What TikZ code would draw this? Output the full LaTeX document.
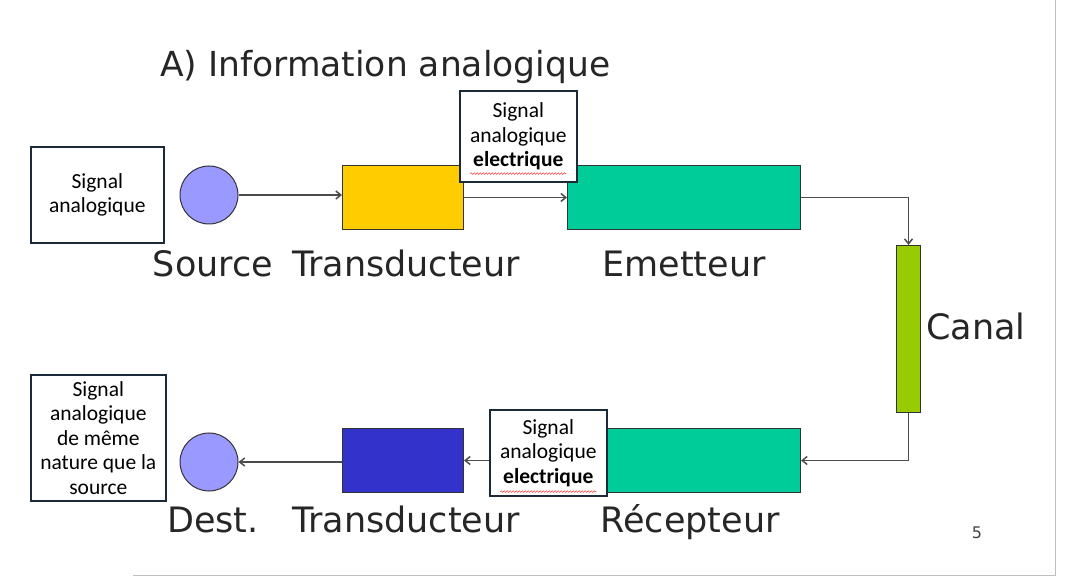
\documentclass[tikz,border=0pt]{standalone}
\usepackage{fontspec}
\setmainfont{DejaVu Sans}
\newfontfamily\callfont{Carlito}
\usetikzlibrary{arrows.meta,decorations.pathmorphing}
\definecolor{navy}{HTML}{1B2A38}
\definecolor{teal}{HTML}{00CC99}
\begin{document}
\begin{tikzpicture}[x=1pt,y=-1pt,
  blk/.style={draw=black!80,line width=1pt,anchor=north west,inner sep=0pt},
  lab/.style={font=\fontsize{35}{38}\selectfont,text=black!85,anchor=base,inner sep=0pt},
  call/.style={draw=navy,line width=1.6pt,fill=white,align=center,font=\callfont\fontsize{21.5}{24.5}\selectfont,text=black,inner sep=0pt,anchor=north west},
  arr/.style={draw=black!70,line width=1.5pt,-{Straight Barb[length=5pt,width=8pt]}},
  sq/.style={red!80,line width=0.5pt,decorate,decoration={snake,amplitude=0.8pt,segment length=3pt}},
  circ/.style={circle,draw=black!80,line width=1pt,fill={rgb,255:red,153;green,153;blue,255},minimum size=58pt,inner sep=0pt}]
\useasboundingbox (0,0) rectangle (1072,580);
\draw[black!25,line width=1pt] (1055,0) coordinate (br1) -- (1055,575) coordinate (br2) -- (133,575) coordinate (br3);
\node[anchor=base west,inner sep=0pt,font=\fontsize{34.5}{38}\selectfont,text=black!85] (title) at (160,77) {A) Information analogique};
% blocks
\node[circ] (src) at (209,195) {};
\node[blk,fill={rgb,255:red,255;green,204;blue,0},minimum width=121pt,minimum height=64pt] (t1) at (342,165) {};
\node[blk,fill=teal,minimum width=233pt,minimum height=64pt] (em) at (567,165) {};
\node[blk,fill={rgb,255:red,153;green,204;blue,0},minimum width=24pt,minimum height=167pt] (can) at (896,245) {};
\node[blk,fill=teal,minimum width=194pt,minimum height=64pt] (rec) at (606,428) {};
\node[blk,fill={rgb,255:red,51;green,51;blue,204},minimum width=121pt,minimum height=64pt] (t2) at (342,428) {};
\node[circ] (dst) at (209,462) {};
% arrows
\draw[arr] (src.east) -- (src.east -| t1.west);
\draw[arr] (t1.east) -- (em.west);
\draw[arr] (em.east) -| (can.north);
\draw[arr] (can.south) |- (rec.east);
\draw[arr] (rec.west) -- (t2.east);
\draw[arr] (t2.west |- dst.east) -- (dst.east);
% labels
\node[lab] (l1) at (213,277) {Source};
\node[lab] (l2) at (406,277) {Transducteur};
\node[lab] (l3) at (684,277) {Emetteur};
\node[lab] (l4) at (976,340) {Canal};
\node[lab] (l5) at (213,532) {Dest.};
\node[lab] (l6) at (406,532) {Transducteur};
\node[lab] (l7) at (690,532) {Récepteur};
\node[font=\fontsize{16}{17}\selectfont,text=black!75] (pg) at (977,533) {5};
% callouts
\node[call,minimum width=133pt,minimum height=96pt] (c1) at (30,146) {Signal\\analogique};
\node[call,minimum width=117pt,minimum height=91pt] (c2) at (459,90) {Signal\\analogique\\\textbf{electrique}};
\node[call,minimum width=135pt,minimum height=126pt] (c3) at (30,374) {Signal\\analogique\\de même\\nature que la\\source};
\node[call,minimum width=117pt,minimum height=86pt] (c4) at (489,409) {Signal\\analogique\\\textbf{electrique}};
\draw[sq] ([xshift=-48pt,yshift=9pt]c2.south) coordinate (w1) -- ([xshift=48pt,yshift=9pt]c2.south) coordinate (w2);
\draw[sq] ([xshift=-48pt,yshift=5pt]c4.south) coordinate (w3) -- ([xshift=48pt,yshift=5pt]c4.south) coordinate (w4);
\end{tikzpicture}
\end{document}
